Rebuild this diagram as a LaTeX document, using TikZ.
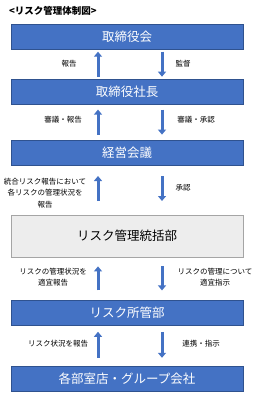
\documentclass[tikz,border=0pt]{standalone}
\usepackage{fontspec}
\setmainfont{Noto Sans CJK JP}
\usepackage{tikz}
\usetikzlibrary{arrows.meta, positioning}
\usepackage{xcolor}
\definecolor{meuazul}{RGB}{68, 114, 196}
\definecolor{meuazulescuro}{RGB}{47, 82, 143}
\definecolor{meucinza}{RGB}{237, 237, 237}
\definecolor{meucinzaborda}{RGB}{165, 165, 165}

\begin{document}
\begin{tikzpicture}[
    x=1pt, y=-1pt,
    box/.style={draw=meuazulescuro, fill=meuazul, text=white, minimum width=232pt, minimum height=25pt, inner sep=0pt, font=\fontsize{12.5}{14}\selectfont},
    boxcinza/.style={box, draw=meucinzaborda, fill=meucinza, text=black, minimum height=42pt},
    rotulo/.style={align=center, inner sep=0pt, font=\fontsize{7.5}{11.5}\selectfont},
    arrow/.style={-{Triangle[width=8pt, length=5pt]}, line width=3pt, color=meuazul}
]
    \useasboundingbox (0,0) rectangle (253,393);
    \node[anchor=west, inner sep=0pt, font=\bfseries\fontsize{9.5}{11}\selectfont] (titulo) at (9,11) {<リスク管理体制図>};

    \node[box] (conselho) at (127,36.5) {取締役会};
    \node[box] (presidente) [below=30pt of conselho] {取締役社長};
    \node[box] (comite) [below=35pt of presidente] {経営会議};
    \node[boxcinza] (gestao) [below=50pt of comite] {リスク管理統括部};
    \node[box] (departamento) [below=43pt of gestao] {リスク所管部};
    \node[box] (filiais) [below=40pt of departamento] {各部室店・グループ会社};

    \coordinate (esq) at (98,0);
    \coordinate (dir) at (162,0);

    \draw[arrow, shorten <=2.5pt, shorten >=2.5pt] (presidente.north -| esq) -- (conselho.south -| esq);
    \draw[arrow, shorten <=2.5pt, shorten >=2.5pt] (conselho.south -| dir) -- (presidente.north -| dir);
    \draw[arrow, shorten <=5pt, shorten >=5pt] (comite.north -| esq) -- (presidente.south -| esq);
    \draw[arrow, shorten <=5pt, shorten >=5pt] (presidente.south -| dir) -- (comite.north -| dir);
    \draw[arrow, shorten <=14pt, shorten >=11pt] (gestao.north -| esq) -- (comite.south -| esq);
    \draw[arrow, shorten <=11pt, shorten >=14pt] (comite.south -| dir) -- (gestao.north -| dir);
    \draw[arrow, shorten <=10pt, shorten >=9pt] (departamento.north -| esq) -- (gestao.south -| esq);
    \draw[arrow, shorten <=9pt, shorten >=10pt] (gestao.south -| dir) -- (departamento.north -| dir);
    \draw[arrow, shorten <=8pt, shorten >=6pt] (filiais.north -| esq) -- (departamento.south -| esq);
    \draw[arrow, shorten <=6pt, shorten >=8pt] (departamento.south -| dir) -- (filiais.north -| dir);

    \node[rotulo] (r1e) at (69,64) {報告};
    \node[rotulo] (r1d) at (183,64) {監督};
    \node[rotulo] (r2e) at (63,120) {審議・報告};
    \node[rotulo] (r2d) at (196,120) {審議・承認};
    \node[rotulo] (r3e) at (45,193) {統合リスク報告において\\各リスクの管理状況を\\報告};
    \node[rotulo] (r3d) at (183,188) {承認};
    \node[rotulo] (r4e) at (53,277) {リスクの管理状況を\\適宜報告};
    \node[rotulo] (r4d) at (215,277) {リスクの管理について\\適宜指示};
    \node[rotulo] (r5e) at (58,344) {リスク状況を報告};
    \node[rotulo] (r5d) at (201,344) {連携・指示};
\end{tikzpicture}
\end{document}
